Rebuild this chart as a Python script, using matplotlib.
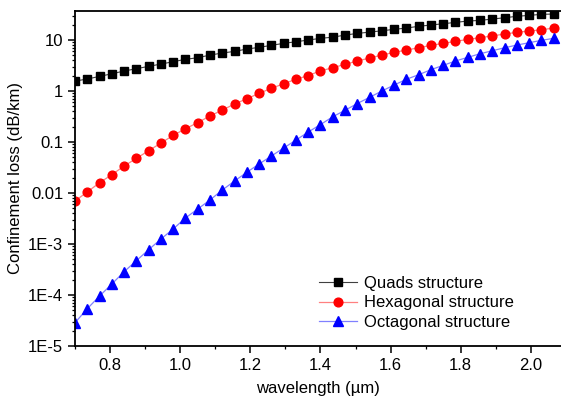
import matplotlib
matplotlib.use("Agg")
import matplotlib.pyplot as plt
from matplotlib.ticker import FixedLocator, FixedFormatter, LogLocator, MultipleLocator, NullFormatter

plt.rcParams['font.family'] = ['Liberation Sans', 'DejaVu Sans']

# wavelength grid, 0.035 um steps (last visible point at 2.065)
wavelength = [round(0.7 + 0.035 * i, 3) for i in range(40)]

quads = [1.57, 1.72, 1.94, 2.18, 2.47, 2.74, 3.05, 3.38, 3.76, 4.19,
         4.50, 5.08, 5.56, 6.00, 6.66, 7.19, 7.88, 8.61, 9.26, 10.0,
         10.8, 11.4, 12.5, 13.5, 14.3, 15.2, 16.2, 17.2, 18.6, 19.7,
         20.9, 22.2, 23.6, 24.3, 25.8, 27.4, 29.2, 30.5, 31.9, 32.4]

hexagonal = [0.00697, 0.0105, 0.0159, 0.0229, 0.0338, 0.0479, 0.0675, 0.0955, 0.135, 0.182,
             0.241, 0.324, 0.424, 0.556, 0.706, 0.902, 1.13, 1.39, 1.70, 2.01,
             2.49, 2.86, 3.34, 3.88, 4.44, 5.08, 5.74, 6.37, 7.06, 7.88,
             8.61, 9.43, 10.3, 11.1, 12.1, 13.1, 14.2, 15.0, 15.9, 17.2]

octagonal = [2.86e-5, 5.38e-5, 9.55e-5, 1.64e-4, 2.86e-4, 4.71e-4, 7.73e-4, 1.25e-3, 1.97e-3, 3.24e-3,
             4.86e-3, 7.30e-3, 0.01145, 0.0172, 0.0255, 0.0371, 0.0531, 0.0763, 0.109, 0.157,
             0.220, 0.313, 0.419, 0.569, 0.752, 1.0, 1.31, 1.70, 2.09, 2.62,
             3.19, 3.88, 4.58, 5.38, 6.17, 7.06, 7.98, 8.86, 9.87, 10.8]

ytick_vals = [1e-5, 1e-4, 1e-3, 0.01, 0.1, 1, 10]
ytick_labels = ['1E-5', '1E-4', '1E-3', '0.01', '0.1', '1', '10']

fig = plt.figure(figsize=(5.61, 4.04), dpi=100)
ax = fig.add_axes([0.1337, 0.1436, 0.8663, 0.8292])

ax.plot(wavelength, quads, color='#404040', lw=0.8, marker='s', ms=5.2,
        mfc='black', mec='black', label='Quads structure')
ax.plot(wavelength, hexagonal, color='#ff8080', lw=0.9, marker='o', ms=6.3,
        mfc='red', mec='red', label='Hexagonal structure')
ax.plot(wavelength, octagonal, color='#8080ff', lw=0.9, marker='^', ms=7,
        mfc='blue', mec='blue', label='Octagonal structure')

ax.set_yscale('log')
ax.set_xlim(0.7, 2.086)
ax.set_ylim(1e-5, 10 ** 1.57)

ax.yaxis.set_major_locator(FixedLocator(ytick_vals))
ax.yaxis.set_major_formatter(FixedFormatter(ytick_labels))
ax.yaxis.set_minor_locator(LogLocator(base=10, subs=range(2, 10), numticks=20))
ax.yaxis.set_minor_formatter(NullFormatter())
ax.xaxis.set_major_locator(MultipleLocator(0.2))
ax.xaxis.set_minor_locator(MultipleLocator(0.1))
ax.xaxis.set_major_formatter(plt.FuncFormatter(lambda v, p: '%.1f' % v))

ax.spines['right'].set_visible(False)
for s in ['left', 'bottom', 'top']:
    ax.spines[s].set_linewidth(1.3)

ax.tick_params(which='major', direction='out', length=5, width=1.1, labelsize=12, top=False, right=False)
ax.tick_params(which='minor', direction='out', length=2.5, width=0.9, top=False, right=False)

ax.set_xlabel('wavelength (\u00b5m)', fontsize=12, labelpad=6)
ax.set_ylabel('Confinement loss (dB/km)', fontsize=12, labelpad=4)

ax.legend(loc='lower right', bbox_to_anchor=(0.917, 0.029), frameon=False, fontsize=12,
          handlelength=2.3, handletextpad=0.4, labelspacing=0.25, borderaxespad=0)

fig.savefig('out.png', dpi=100)
